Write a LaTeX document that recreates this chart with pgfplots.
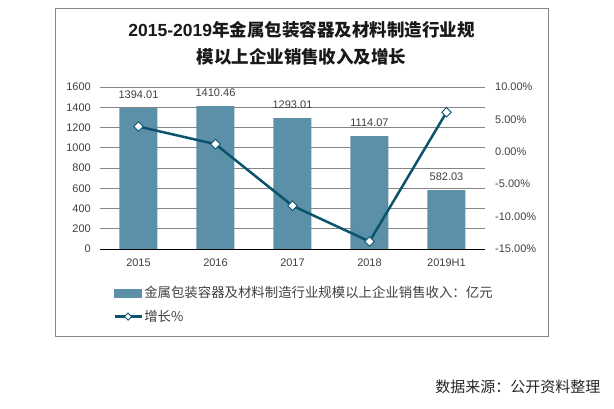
\documentclass[border=0pt]{standalone}
\usepackage{fontspec}
\setmainfont{Liberation Sans}
\newfontfamily\cjk{Noto Sans CJK SC}
\usepackage{pgfplots}
\pgfplotsset{compat=1.18}
\definecolor{barcol}{RGB}{91,144,168}
\definecolor{linecol}{RGB}{12,84,110}
\definecolor{gridcol}{RGB}{134,134,134}
\definecolor{txtcol}{RGB}{64,64,64}
\begin{document}
\begin{tikzpicture}
\path[use as bounding box] (0,0) rectangle (614pt,409pt);
\draw[gridcol, line width=0.9pt] (55pt,73pt) rectangle (548pt,401pt);
% title
\node[text=black!90, font=\fontsize{17.5}{20}\selectfont\bfseries] at (301.5pt,379pt)
  {2015-2019{\cjk\bfseries 年金属包装容器及材料制造行业规}};
\node[text=black!90, font=\fontsize{17.5}{20}\selectfont\cjk\bfseries] at (301.5pt,352pt)
  {模以上企业销售收入及增长};
% bars, left axis
\begin{axis}[
    at={(100pt,160pt)}, anchor=south west,
    scale only axis, width=385pt, height=162pt,
    xmin=-0.5, xmax=4.5, ymin=0, ymax=1600,
    xtick={0,...,4},
    xticklabels={2015,2016,2017,2018,2019H1},
    ytick={0,200,...,1600},
    axis x line*=bottom, axis y line*=left,
    y axis line style={draw=none},
    x axis line style={black, line width=0.8pt},
    major tick length=0pt,
    ymajorgrids, grid style={gridcol, line width=0.8pt},
    /pgf/number format/assume math mode=true,
    /pgf/number format/1000 sep={},
    yticklabel style={font=\fontsize{11}{13}\selectfont, text=txtcol,
      anchor=east, inner sep=0pt, xshift=-9pt},
    xticklabel style={font=\fontsize{11}{13}\selectfont, text=txtcol,
      anchor=north, inner sep=0pt, yshift=-10pt},
    scaled y ticks=false,
  ]
  \addplot[ybar, bar width=38pt, fill=barcol, draw=none,
    point meta=explicit symbolic, nodes near coords,
    every node near coord/.append style={font=\fontsize{11}{13}\selectfont,
      text=txtcol, anchor=south, inner sep=0pt, yshift=9pt}]
    coordinates {
      (0,1394.01) [1394.01]
      (1,1410.46) [1410.46]
      (2,1293.01) [1293.01]
      (3,1114.07) [1114.07]
      (4,582.03)  [582.03]
    };
\end{axis}
% growth line, right axis
\begin{axis}[
    at={(100pt,160pt)}, anchor=south west,
    scale only axis, width=385pt, height=162pt,
    xmin=-0.5, xmax=4.5, ymin=-15, ymax=10,
    ytick={-15,-10,...,10},
    axis x line=none, axis y line*=right,
    y axis line style={draw=none},
    major tick length=0pt,
    /pgf/number format/assume math mode=true,
    yticklabel={\pgfmathprintnumber[fixed,fixed zerofill,precision=2]{\tick}\%},
    yticklabel style={font=\fontsize{11}{13}\selectfont, text=txtcol,
      anchor=west, inner sep=0pt, xshift=10pt},
    legend style={at={(0.034,-0.22)}, anchor=north west, draw=none, fill=none,
      inner sep=0pt, row sep=8pt,
      font=\cjk\fontsize{13.4}{15}\selectfont, text=txtcol,
      nodes={inner sep=1.5pt}},
    legend cell align=left,
  ]
  \addlegendimage{legend image code/.code={\fill[barcol] (0pt,-4pt) rectangle (27pt,4pt);}}
  \addlegendentry{金属包装容器及材料制造行业规模以上企业销售收入：亿元}
  \addplot[color=linecol, line width=2.5pt, mark=square*, mark size=3.4pt,
    mark options={rotate=45, fill=white, draw=linecol, line width=0.9pt},
    legend image code/.code={\draw[mark repeat=2,mark phase=2, mark size=2.5pt]
      plot coordinates {(0pt,0pt)(13.5pt,0pt)(27pt,0pt)};}]
    coordinates {
      (0,3.9)
      (1,1.18)
      (2,-8.33)
      (3,-13.84)
      (4,6.1)
    };
  \addlegendentry{增长\%}
\end{axis}
% source
\node[anchor=east, text=black!85, font=\cjk\fontsize{15}{17}\selectfont] at (604pt,22pt) {数据来源：公开资料整理};
\end{tikzpicture}
\end{document}
